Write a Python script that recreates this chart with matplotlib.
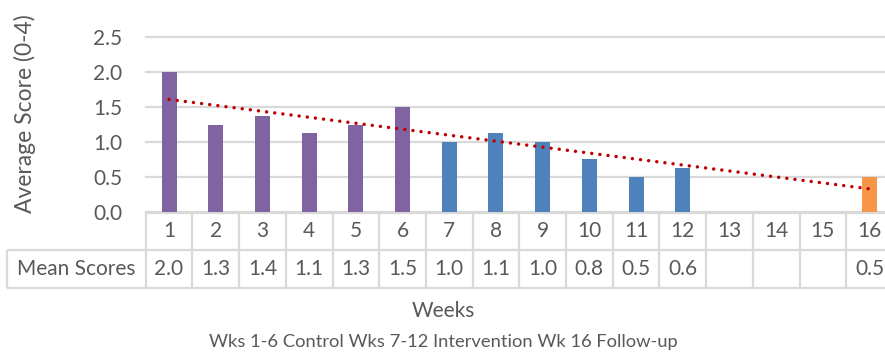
import matplotlib
matplotlib.use("Agg")
import matplotlib.pyplot as plt
import numpy as np
from matplotlib.transforms import blended_transform_factory
from decimal import Decimal, ROUND_HALF_UP

# Weekly mean scores (weeks 13-15 were not measured)
weeks = list(range(1, 17))
mean_scores = [2.0, 1.25, 1.375, 1.125, 1.25, 1.5, 1.0, 1.125, 1.0, 0.75, 0.5, 0.625,
               None, None, None, 0.5]
phases = ["Control"] * 6 + ["Intervention"] * 6 + [None] * 3 + ["Follow-up"]
phase_colors = {"Control": "#8064A2", "Intervention": "#4F81BD", "Follow-up": "#F79646"}
y_ticks = [0.0, 0.5, 1.0, 1.5, 2.0, 2.5]
row_label = "Mean Scores"
y_label = "Average Score (0-4)"
x_label = "Weeks"
subtitle = "Wks 1-6 Control Wks 7-12 Intervention Wk 16 Follow-up"

FONT = "Lato"
TEXT = "#595959"
GRID = "#D9D9D9"
FS = 15

W, H = 885, 358
fig = plt.figure(figsize=(W / 100, H / 100), dpi=100)


def fx(px):
    return px / W


def fy(py):
    return 1 - py / H


ax_left, ax_right = 145.7, 892.9
ax_top, ax_bottom = 37.3, 211.7
ax = fig.add_axes([fx(ax_left), fy(ax_bottom), fx(ax_right - ax_left), (ax_bottom - ax_top) / H])

# bars
xs = [w for w, v in zip(weeks, mean_scores) if v is not None]
vals = [v for v in mean_scores if v is not None]
cols = [phase_colors[p] for p, v in zip(phases, mean_scores) if v is not None]
ax.bar(xs, vals, width=0.32, color=cols, zorder=3)

# linear trend line over the measured weeks
slope, intercept = np.polyfit(xs, vals, 1)
tx = np.array([weeks[0], weeks[-1]])
ax.plot(tx, slope * tx + intercept, color="#C00000", lw=2.5,
        linestyle=(0, (0.01, 2.35)), dash_capstyle="round", zorder=4)

ax.set_xlim(0.5, 16.5)
ax.set_ylim(0, 2.5)
ax.set_yticks(y_ticks)
ax.set_yticklabels([f"{t:.1f}" for t in y_ticks], fontfamily=FONT, fontsize=FS, color=TEXT)
ax.tick_params(axis="y", length=0, pad=17)
ax.set_xticks([])
for s in ax.spines.values():
    s.set_visible(False)
ax.yaxis.grid(True, color=GRID, lw=1.6)
ax.set_axisbelow(True)
for gl in ax.get_ygridlines():
    gl.set_clip_on(False)

# data table under the axis
tr = blended_transform_factory(ax.transData, fig.transFigure)
row1_top, row1_bot, row2_bot = 212.5, 250.0, 288.0
line_kw = dict(color=GRID, lw=1.6, clip_on=False, solid_capstyle="butt")

ax.plot([0.5, 16.5], [fy(row1_top)] * 2, transform=tr, **line_kw)
for yy in (row1_bot, row2_bot):
    fig.add_artist(plt.Line2D([fx(7.3), 1.02], [fy(yy)] * 2, **line_kw))
for b in np.arange(0.5, 17.0, 1.0):
    ax.plot([b, b], [fy(row1_top), fy(row2_bot)], transform=tr, **line_kw)
fig.add_artist(plt.Line2D([fx(7.3)] * 2, [fy(row1_bot), fy(row2_bot)], **line_kw))


def fmt(v):
    if v is None:
        return ""
    return str(Decimal(str(v)).quantize(Decimal("0.1"), rounding=ROUND_HALF_UP))


for w, v in zip(weeks, mean_scores):
    ax.text(w, fy((row1_top + row1_bot) / 2), str(w), transform=tr, ha="center", va="center",
            fontfamily=FONT, fontsize=FS, color=TEXT, clip_on=False)
    ax.text(w, fy((row1_bot + row2_bot) / 2), fmt(v), transform=tr, ha="center", va="center",
            fontfamily=FONT, fontsize=FS, color=TEXT, clip_on=False)
fig.text(fx(76), fy((row1_bot + row2_bot) / 2), row_label, ha="center", va="center",
         fontfamily=FONT, fontsize=FS, color=TEXT)

fig.text(fx(443.5), fy(311), x_label, ha="center", va="center",
         fontfamily=FONT, fontsize=FS, color=TEXT)
fig.text(fx(443.5), fy(342), subtitle, ha="center", va="center",
         fontfamily=FONT, fontsize=13.2, color=TEXT)
fig.text(fx(25), fy(114), y_label, ha="center", va="center", rotation=90,
         fontfamily=FONT, fontsize=16.5, color=TEXT)

fig.savefig("out.png", dpi=100)
